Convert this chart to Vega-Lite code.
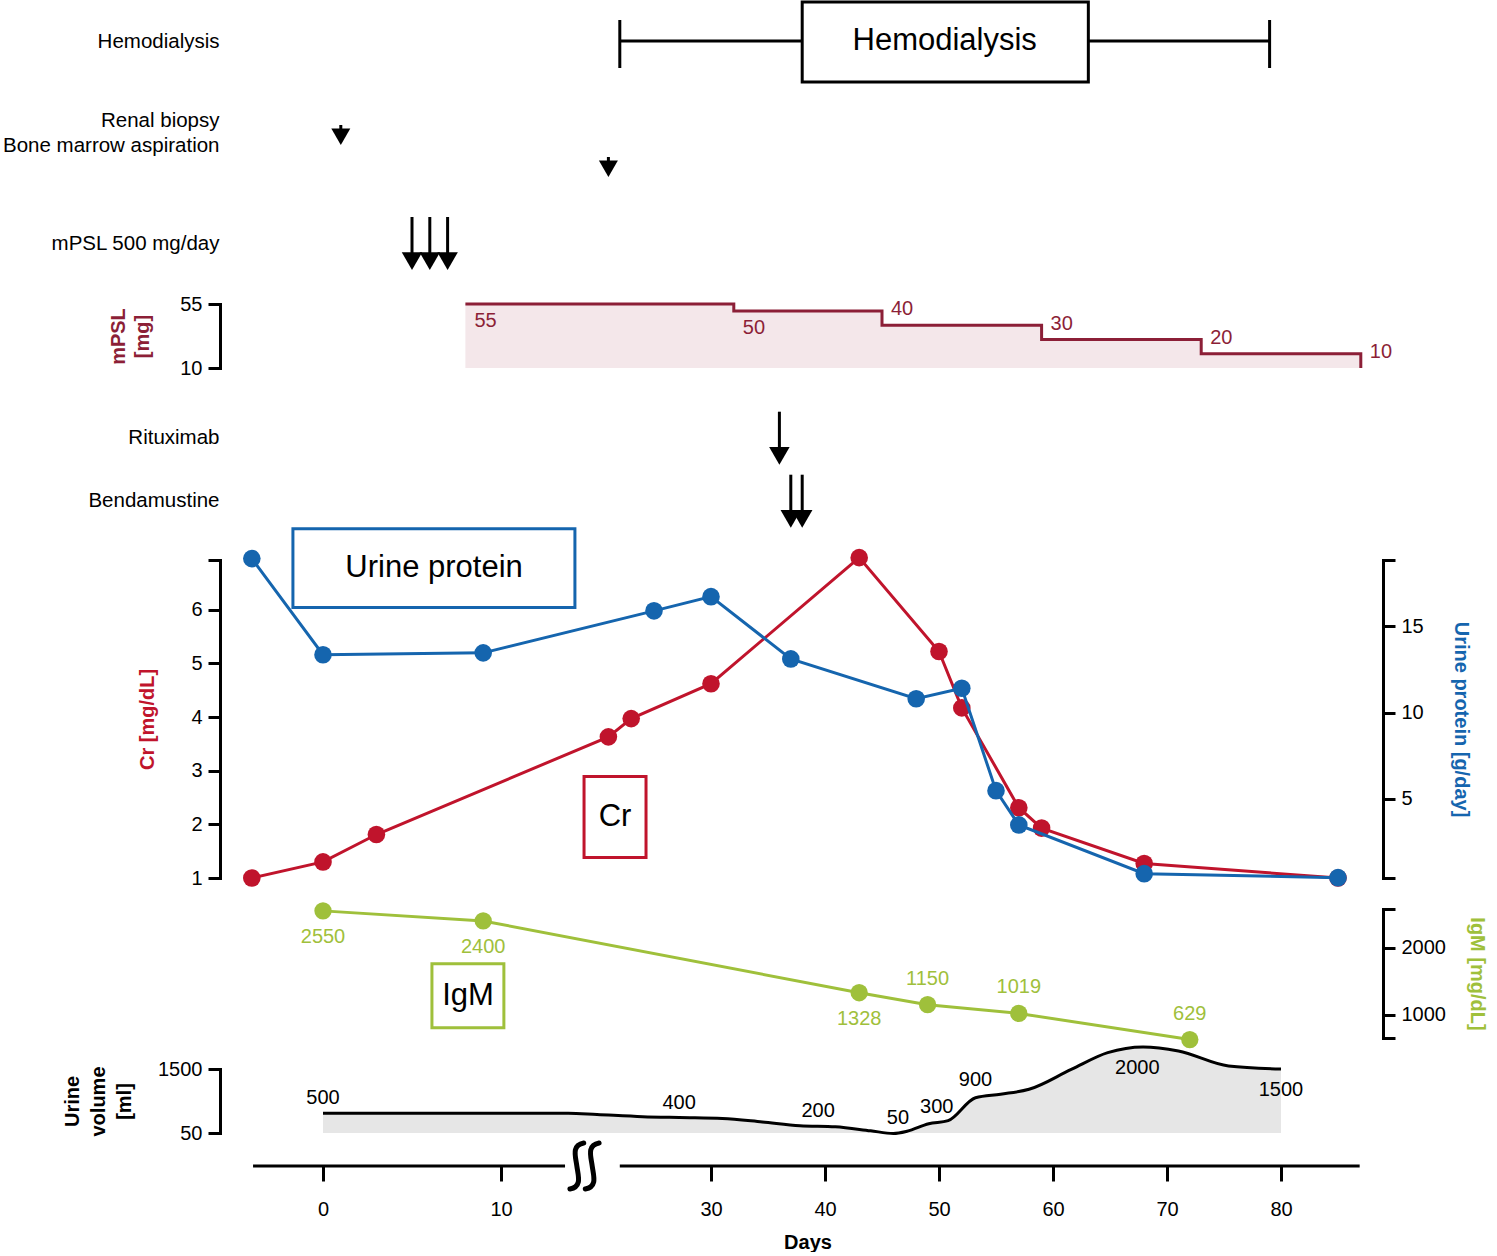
{
  "$schema": "https://vega.github.io/schema/vega-lite/v6.json",
  "background": "white",
  "padding": {"left": 2, "top": 0, "right": 10, "bottom": 0},
  "spacing": 31,
  "bounds": "flush",
  "resolve": {"scale": {"x": "independent"}},
  "config": {
    "font": "Liberation Sans",
    "view": {"stroke": null},
    "axis": {
      "grid": false, "domainColor": "black", "domainWidth": 3, "domainCap": "square",
      "tickColor": "black", "tickWidth": 3, "tickSize": 12,
      "labelColor": "black", "labelFontSize": 20, "labelPadding": 6, "labelLimit": 400,
      "labelFlush": false, "labelOverlap": false,
      "titleFontSize": 20, "titleFontWeight": "bold", "titleColor": "black"
    }
  },
  "datasets": {
    "hd": [{"label": "Hemodialysis", "start": 22, "end": 79, "boxStart": 38, "boxEnd": 63.1, "mid": 50.5, "lane": 41}],
    "eventsA": [
      {"event": "Renal biopsy", "day": 1, "lane": 135},
      {"event": "Bone marrow aspiration", "day": 21, "lane": 167},
      {"event": "mPSL 500 mg/day", "day": 5, "lane": 243},
      {"event": "mPSL 500 mg/day", "day": 6, "lane": 243},
      {"event": "mPSL 500 mg/day", "day": 7, "lane": 243}
    ],
    "eventsC": [
      {"event": "Rituximab", "day": 36, "lane": 38.7},
      {"event": "Bendamustine", "day": 37, "lane": 101.7},
      {"event": "Bendamustine", "day": 38, "lane": 101.7}
    ],
    "mpsl": [
      {"day": 8, "dose": 55}, {"day": 32, "dose": 50}, {"day": 45, "dose": 40},
      {"day": 59, "dose": 30}, {"day": 73, "dose": 20}, {"day": 87, "dose": 10}
    ],
    "cr": [
      {"day": -4, "cr": 1.0}, {"day": 0, "cr": 1.3}, {"day": 3, "cr": 1.81}, {"day": 21, "cr": 3.63},
      {"day": 23, "cr": 3.97}, {"day": 30, "cr": 4.62}, {"day": 43, "cr": 6.97}, {"day": 50, "cr": 5.22},
      {"day": 52, "cr": 4.17}, {"day": 57, "cr": 2.31}, {"day": 59, "cr": 1.93}, {"day": 68, "cr": 1.27},
      {"day": 85, "cr": 1.0}
    ],
    "up": [
      {"day": -4, "up": 18.9}, {"day": 0, "up": 13.34}, {"day": 9, "up": 13.45}, {"day": 25, "up": 15.88},
      {"day": 30, "up": 16.7}, {"day": 37, "up": 13.1}, {"day": 48, "up": 10.8}, {"day": 52, "up": 11.4},
      {"day": 55, "up": 5.48}, {"day": 57, "up": 3.5}, {"day": 68, "up": 0.68}, {"day": 85, "up": 0.45}
    ],
    "igm": [
      {"day": 0, "igm": 2550}, {"day": 9, "igm": 2400}, {"day": 43, "igm": 1328},
      {"day": 49, "igm": 1150}, {"day": 57, "igm": 1019}, {"day": 72, "igm": 629}
    ],
    "notes": [
      {"label": "Urine protein", "x1": -1.69, "x2": 17.7, "lo": 6.04, "hi": 7.51, "cx": 6.24, "cy": 6.77},
      {"label": "Cr", "x1": 18.65, "x2": 24.3, "lo": 1.38, "hi": 2.89, "cx": 21.58, "cy": 2.13},
      {"label": "IgM", "x1": 6.12, "x2": 10.3, "lo": 806, "hi": 1761, "cx": 8.15, "cy": 1284}
    ],
    "uvCurve": [
      {"day": 0, "vol": 500}, {"day": 17, "vol": 500}, {"day": 20, "vol": 470}, {"day": 24, "vol": 420},
      {"day": 27.2, "vol": 400}, {"day": 31, "vol": 380}, {"day": 34.5, "vol": 300}, {"day": 37.8, "vol": 215},
      {"day": 40.9, "vol": 190}, {"day": 44, "vol": 100}, {"day": 46, "vol": 40}, {"day": 47.2, "vol": 90},
      {"day": 49.1, "vol": 260}, {"day": 50.8, "vol": 330}, {"day": 53.2, "vol": 850}, {"day": 55.4, "vol": 930},
      {"day": 57.9, "vol": 1040}, {"day": 61.6, "vol": 1490}, {"day": 64.8, "vol": 1870}, {"day": 67.9, "vol": 2000},
      {"day": 71, "vol": 1910}, {"day": 75.4, "vol": 1570}, {"day": 80, "vol": 1500}
    ],
    "uvLabels": [
      {"day": 0, "vol": 500}, {"day": 27.2, "vol": 400}, {"day": 39.4, "vol": 200}, {"day": 46.4, "vol": 50},
      {"day": 49.8, "vol": 300}, {"day": 53.2, "vol": 900}, {"day": 67.4, "vol": 2000}, {"day": 80, "vol": 1500}
    ],
    "axisSegments": [{"from": -3.93, "to": 16.67}, {"from": 22, "to": 86.9}],
    "breaks": [{"day": 17.9}, {"day": 19.5}]
  },
  "vconcat": [
    {
      "width": 1163, "height": 272.3,
      "layer": [
        {"data": {"name": "hd"}, "mark": {"type": "rule", "color": "black", "strokeWidth": 3},
         "encoding": {
           "x": {"field": "start", "type": "quantitative", "scale": {"domain": [-5.787, 10, 20, 90], "range": [0, 281, 377, 1175], "nice": false, "zero": false}, "axis": null},
           "x2": {"field": "end"},
           "y": {"field": "lane", "type": "quantitative", "scale": {"domain": [0, 272.3], "reverse": true, "nice": false, "zero": false}, "axis": {"values": [41, 120, 243], "labelExpr": "datum.value == 41 ? 'Hemodialysis' : datum.value == 243 ? 'mPSL 500 mg/day' : ['Renal biopsy', 'Bone marrow aspiration']", "domain": false, "ticks": false, "tickSize": 0, "labelPadding": 1, "labelFontSize": 20.5, "labelLineHeight": 25, "labelBaseline": "middle", "labelAlign": "right", "title": null}}
         }},
        {"data": {"name": "hd"}, "mark": {"type": "tick", "orient": "vertical", "size": 48, "thickness": 3, "color": "black", "opacity": 1, "yOffset": 3},
         "encoding": {
           "x": {"field": "start", "type": "quantitative", "scale": {"domain": [-5.787, 10, 20, 90], "range": [0, 281, 377, 1175], "nice": false, "zero": false}, "axis": null},
           "y": {"field": "lane", "type": "quantitative", "scale": {"domain": [0, 272.3], "reverse": true, "nice": false, "zero": false}, "axis": {"values": [41, 120, 243], "labelExpr": "datum.value == 41 ? 'Hemodialysis' : datum.value == 243 ? 'mPSL 500 mg/day' : ['Renal biopsy', 'Bone marrow aspiration']", "domain": false, "ticks": false, "tickSize": 0, "labelPadding": 1, "labelFontSize": 20.5, "labelLineHeight": 25, "labelBaseline": "middle", "labelAlign": "right", "title": null}}
         }},
        {"data": {"name": "hd"}, "mark": {"type": "tick", "orient": "vertical", "size": 48, "thickness": 3, "color": "black", "opacity": 1, "yOffset": 3},
         "encoding": {
           "x": {"field": "end", "type": "quantitative", "scale": {"domain": [-5.787, 10, 20, 90], "range": [0, 281, 377, 1175], "nice": false, "zero": false}, "axis": null},
           "y": {"field": "lane", "type": "quantitative", "scale": {"domain": [0, 272.3], "reverse": true, "nice": false, "zero": false}, "axis": {"values": [41, 120, 243], "labelExpr": "datum.value == 41 ? 'Hemodialysis' : datum.value == 243 ? 'mPSL 500 mg/day' : ['Renal biopsy', 'Bone marrow aspiration']", "domain": false, "ticks": false, "tickSize": 0, "labelPadding": 1, "labelFontSize": 20.5, "labelLineHeight": 25, "labelBaseline": "middle", "labelAlign": "right", "title": null}}
         }},
        {"data": {"name": "hd"}, "mark": {"type": "rect", "fill": "white", "stroke": "black", "strokeWidth": 3, "yOffset": -39, "y2Offset": 41},
         "encoding": {
           "x": {"field": "boxStart", "type": "quantitative", "scale": {"domain": [-5.787, 10, 20, 90], "range": [0, 281, 377, 1175], "nice": false, "zero": false}, "axis": null},
           "x2": {"field": "boxEnd"},
           "y": {"field": "lane", "type": "quantitative", "scale": {"domain": [0, 272.3], "reverse": true, "nice": false, "zero": false}, "axis": {"values": [41, 120, 243], "labelExpr": "datum.value == 41 ? 'Hemodialysis' : datum.value == 243 ? 'mPSL 500 mg/day' : ['Renal biopsy', 'Bone marrow aspiration']", "domain": false, "ticks": false, "tickSize": 0, "labelPadding": 1, "labelFontSize": 20.5, "labelLineHeight": 25, "labelBaseline": "middle", "labelAlign": "right", "title": null}},
           "y2": {"field": "lane"}
         }},
        {"data": {"name": "hd"}, "mark": {"type": "text", "fontSize": 31, "color": "black", "baseline": "middle", "align": "center"},
         "encoding": {
           "x": {"field": "mid", "type": "quantitative", "scale": {"domain": [-5.787, 10, 20, 90], "range": [0, 281, 377, 1175], "nice": false, "zero": false}, "axis": null},
           "y": {"field": "lane", "type": "quantitative", "scale": {"domain": [0, 272.3], "reverse": true, "nice": false, "zero": false}, "axis": {"values": [41, 120, 243], "labelExpr": "datum.value == 41 ? 'Hemodialysis' : datum.value == 243 ? 'mPSL 500 mg/day' : ['Renal biopsy', 'Bone marrow aspiration']", "domain": false, "ticks": false, "tickSize": 0, "labelPadding": 1, "labelFontSize": 20.5, "labelLineHeight": 25, "labelBaseline": "middle", "labelAlign": "right", "title": null}},
           "text": {"field": "label"}
         }},
        {"data": {"name": "eventsA"}, "transform": [{"filter": "datum.event != 'mPSL 500 mg/day'"}],
         "mark": {"type": "tick", "orient": "vertical", "size": 10, "thickness": 3, "color": "black", "opacity": 1, "yOffset": -5},
         "encoding": {
           "x": {"field": "day", "type": "quantitative", "scale": {"domain": [-5.787, 10, 20, 90], "range": [0, 281, 377, 1175], "nice": false, "zero": false}, "axis": null},
           "y": {"field": "lane", "type": "quantitative", "scale": {"domain": [0, 272.3], "reverse": true, "nice": false, "zero": false}, "axis": {"values": [41, 120, 243], "labelExpr": "datum.value == 41 ? 'Hemodialysis' : datum.value == 243 ? 'mPSL 500 mg/day' : ['Renal biopsy', 'Bone marrow aspiration']", "domain": false, "ticks": false, "tickSize": 0, "labelPadding": 1, "labelFontSize": 20.5, "labelLineHeight": 25, "labelBaseline": "middle", "labelAlign": "right", "title": null}}
         }},
        {"data": {"name": "eventsA"}, "transform": [{"filter": "datum.event != 'mPSL 500 mg/day'"}],
         "mark": {"type": "point", "shape": "triangle-down", "filled": true, "color": "black", "opacity": 1, "size": 361, "yOffset": 1.8},
         "encoding": {
           "x": {"field": "day", "type": "quantitative", "scale": {"domain": [-5.787, 10, 20, 90], "range": [0, 281, 377, 1175], "nice": false, "zero": false}, "axis": null},
           "y": {"field": "lane", "type": "quantitative", "scale": {"domain": [0, 272.3], "reverse": true, "nice": false, "zero": false}, "axis": {"values": [41, 120, 243], "labelExpr": "datum.value == 41 ? 'Hemodialysis' : datum.value == 243 ? 'mPSL 500 mg/day' : ['Renal biopsy', 'Bone marrow aspiration']", "domain": false, "ticks": false, "tickSize": 0, "labelPadding": 1, "labelFontSize": 20.5, "labelLineHeight": 25, "labelBaseline": "middle", "labelAlign": "right", "title": null}}
         }},
        {"data": {"name": "eventsA"}, "transform": [{"filter": "datum.event == 'mPSL 500 mg/day'"}],
         "mark": {"type": "tick", "orient": "vertical", "size": 38, "thickness": 3, "color": "black", "opacity": 1, "yOffset": -7},
         "encoding": {
           "x": {"field": "day", "type": "quantitative", "scale": {"domain": [-5.787, 10, 20, 90], "range": [0, 281, 377, 1175], "nice": false, "zero": false}, "axis": null},
           "y": {"field": "lane", "type": "quantitative", "scale": {"domain": [0, 272.3], "reverse": true, "nice": false, "zero": false}, "axis": {"values": [41, 120, 243], "labelExpr": "datum.value == 41 ? 'Hemodialysis' : datum.value == 243 ? 'mPSL 500 mg/day' : ['Renal biopsy', 'Bone marrow aspiration']", "domain": false, "ticks": false, "tickSize": 0, "labelPadding": 1, "labelFontSize": 20.5, "labelLineHeight": 25, "labelBaseline": "middle", "labelAlign": "right", "title": null}}
         }},
        {"data": {"name": "eventsA"}, "transform": [{"filter": "datum.event == 'mPSL 500 mg/day'"}],
         "mark": {"type": "point", "shape": "triangle-down", "filled": true, "color": "black", "opacity": 1, "size": 420, "yOffset": 18.1},
         "encoding": {
           "x": {"field": "day", "type": "quantitative", "scale": {"domain": [-5.787, 10, 20, 90], "range": [0, 281, 377, 1175], "nice": false, "zero": false}, "axis": null},
           "y": {"field": "lane", "type": "quantitative", "scale": {"domain": [0, 272.3], "reverse": true, "nice": false, "zero": false}, "axis": {"values": [41, 120, 243], "labelExpr": "datum.value == 41 ? 'Hemodialysis' : datum.value == 243 ? 'mPSL 500 mg/day' : ['Renal biopsy', 'Bone marrow aspiration']", "domain": false, "ticks": false, "tickSize": 0, "labelPadding": 1, "labelFontSize": 20.5, "labelLineHeight": 25, "labelBaseline": "middle", "labelAlign": "right", "title": null}}
         }}
      ]
    },
    {
      "width": 1163, "height": 64,
      "data": {"name": "mpsl"},
      "layer": [
        {"mark": {"type": "area", "interpolate": "step-after", "color": "#f4e7ea", "opacity": 1},
         "encoding": {
           "x": {"field": "day", "type": "quantitative", "scale": {"domain": [-5.787, 10, 20, 90], "range": [0, 281, 377, 1175], "nice": false, "zero": false}, "axis": null},
           "y": {"field": "dose", "type": "quantitative", "scale": {"domain": [10, 55], "nice": false, "zero": false}, "axis": {"values": [10, 55], "title": ["mPSL", "[mg]"], "titleColor": "#8c1f37", "titlePadding": 27, "titleLineHeight": 24}},
           "y2": {"datum": 10}
         }},
        {"mark": {"type": "line", "interpolate": "step-after", "color": "#8c1f37", "strokeWidth": 3},
         "encoding": {
           "x": {"field": "day", "type": "quantitative", "scale": {"domain": [-5.787, 10, 20, 90], "range": [0, 281, 377, 1175], "nice": false, "zero": false}, "axis": null},
           "y": {"field": "dose", "type": "quantitative", "scale": {"domain": [10, 55], "nice": false, "zero": false}, "axis": {"values": [10, 55], "title": ["mPSL", "[mg]"], "titleColor": "#8c1f37", "titlePadding": 27, "titleLineHeight": 24}}
         }},
        {"transform": [{"filter": "datum.dose >= 50"}],
         "mark": {"type": "text", "align": "left", "baseline": "middle", "dx": 9, "dy": 17, "fontSize": 20, "color": "#8c1f37"},
         "encoding": {
           "x": {"field": "day", "type": "quantitative", "scale": {"domain": [-5.787, 10, 20, 90], "range": [0, 281, 377, 1175], "nice": false, "zero": false}, "axis": null},
           "y": {"field": "dose", "type": "quantitative", "scale": {"domain": [10, 55], "nice": false, "zero": false}, "axis": {"values": [10, 55], "title": ["mPSL", "[mg]"], "titleColor": "#8c1f37", "titlePadding": 27, "titleLineHeight": 24}},
           "text": {"field": "dose"}
         }},
        {"transform": [{"filter": "datum.dose < 50"}],
         "mark": {"type": "text", "align": "left", "baseline": "middle", "dx": 9, "dy": -16, "fontSize": 20, "color": "#8c1f37"},
         "encoding": {
           "x": {"field": "day", "type": "quantitative", "scale": {"domain": [-5.787, 10, 20, 90], "range": [0, 281, 377, 1175], "nice": false, "zero": false}, "axis": null},
           "y": {"field": "dose", "type": "quantitative", "scale": {"domain": [10, 55], "nice": false, "zero": false}, "axis": {"values": [10, 55], "title": ["mPSL", "[mg]"], "titleColor": "#8c1f37", "titlePadding": 27, "titleLineHeight": 24}},
           "text": {"field": "dose"}
         }}
      ]
    },
    {
      "width": 1163, "height": 130,
      "data": {"name": "eventsC"},
      "layer": [
        {"mark": {"type": "tick", "orient": "vertical", "size": 38, "thickness": 3, "color": "black", "opacity": 1, "yOffset": -7},
         "encoding": {
           "x": {"field": "day", "type": "quantitative", "scale": {"domain": [-5.787, 10, 20, 90], "range": [0, 281, 377, 1175], "nice": false, "zero": false}, "axis": null},
           "y": {"field": "lane", "type": "quantitative", "scale": {"domain": [0, 130], "reverse": true, "nice": false, "zero": false}, "axis": {"values": [38.7, 101.7], "labelExpr": "datum.value < 70 ? 'Rituximab' : 'Bendamustine'", "domain": false, "ticks": false, "tickSize": 0, "labelPadding": 1, "labelFontSize": 20.5, "labelBaseline": "middle", "labelAlign": "right", "title": null}}
         }},
        {"mark": {"type": "point", "shape": "triangle-down", "filled": true, "color": "black", "opacity": 1, "size": 420, "yOffset": 18.1},
         "encoding": {
           "x": {"field": "day", "type": "quantitative", "scale": {"domain": [-5.787, 10, 20, 90], "range": [0, 281, 377, 1175], "nice": false, "zero": false}, "axis": null},
           "y": {"field": "lane", "type": "quantitative", "scale": {"domain": [0, 130], "reverse": true, "nice": false, "zero": false}, "axis": {"values": [38.7, 101.7], "labelExpr": "datum.value < 70 ? 'Rituximab' : 'Bendamustine'", "domain": false, "ticks": false, "tickSize": 0, "labelPadding": 1, "labelFontSize": 20.5, "labelBaseline": "middle", "labelAlign": "right", "title": null}}
         }}
      ]
    },
    {
      "width": 1163, "height": 318,
      "layer": [
        {"layer": [
          {"data": {"name": "notes"}, "transform": [{"filter": "datum.label == 'Urine protein'"}],
           "mark": {"type": "rect", "filled": false, "color": "#1565ae", "strokeWidth": 3},
           "encoding": {
             "x": {"field": "x1", "type": "quantitative", "scale": {"domain": [-5.787, 10, 20, 90], "range": [0, 281, 377, 1175], "nice": false, "zero": false}, "axis": null},
             "x2": {"field": "x2"},
             "y": {"field": "lo", "type": "quantitative", "scale": {"domain": [1, 6.926], "nice": false, "zero": false}, "axis": {"orient": "left", "values": [1, 2, 3, 4, 5, 6, 6.926], "labelExpr": "datum.value > 6.5 ? '' : datum.label", "title": "Cr [mg/dL]", "titleColor": "#c0142c", "titlePadding": 33}},
             "y2": {"field": "hi"}
           }},
          {"data": {"name": "notes"}, "transform": [{"filter": "datum.label == 'Cr'"}],
           "mark": {"type": "rect", "filled": false, "color": "#c0142c", "strokeWidth": 3},
           "encoding": {
             "x": {"field": "x1", "type": "quantitative", "scale": {"domain": [-5.787, 10, 20, 90], "range": [0, 281, 377, 1175], "nice": false, "zero": false}, "axis": null},
             "x2": {"field": "x2"},
             "y": {"field": "lo", "type": "quantitative", "scale": {"domain": [1, 6.926], "nice": false, "zero": false}, "axis": {"orient": "left", "values": [1, 2, 3, 4, 5, 6, 6.926], "labelExpr": "datum.value > 6.5 ? '' : datum.label", "title": "Cr [mg/dL]", "titleColor": "#c0142c", "titlePadding": 33}},
             "y2": {"field": "hi"}
           }},
          {"data": {"name": "notes"}, "transform": [{"filter": "datum.label != 'IgM'"}],
           "mark": {"type": "text", "fontSize": 31, "color": "black", "baseline": "middle", "align": "center"},
           "encoding": {
             "x": {"field": "cx", "type": "quantitative", "scale": {"domain": [-5.787, 10, 20, 90], "range": [0, 281, 377, 1175], "nice": false, "zero": false}, "axis": null},
             "y": {"field": "cy", "type": "quantitative", "scale": {"domain": [1, 6.926], "nice": false, "zero": false}, "axis": {"orient": "left", "values": [1, 2, 3, 4, 5, 6, 6.926], "labelExpr": "datum.value > 6.5 ? '' : datum.label", "title": "Cr [mg/dL]", "titleColor": "#c0142c", "titlePadding": 33}},
             "text": {"field": "label"}
           }},
          {"data": {"name": "cr"}, "mark": {"type": "line", "color": "#c0142c", "strokeWidth": 3},
           "encoding": {
             "x": {"field": "day", "type": "quantitative", "scale": {"domain": [-5.787, 10, 20, 90], "range": [0, 281, 377, 1175], "nice": false, "zero": false}, "axis": null},
             "y": {"field": "cr", "type": "quantitative", "scale": {"domain": [1, 6.926], "nice": false, "zero": false}, "axis": {"orient": "left", "values": [1, 2, 3, 4, 5, 6, 6.926], "labelExpr": "datum.value > 6.5 ? '' : datum.label", "title": "Cr [mg/dL]", "titleColor": "#c0142c", "titlePadding": 33}}
           }},
          {"data": {"name": "cr"}, "mark": {"type": "point", "shape": "circle", "filled": true, "size": 310, "color": "#c0142c", "opacity": 1},
           "encoding": {
             "x": {"field": "day", "type": "quantitative", "scale": {"domain": [-5.787, 10, 20, 90], "range": [0, 281, 377, 1175], "nice": false, "zero": false}, "axis": null},
             "y": {"field": "cr", "type": "quantitative", "scale": {"domain": [1, 6.926], "nice": false, "zero": false}, "axis": {"orient": "left", "values": [1, 2, 3, 4, 5, 6, 6.926], "labelExpr": "datum.value > 6.5 ? '' : datum.label", "title": "Cr [mg/dL]", "titleColor": "#c0142c", "titlePadding": 33}}
           }}
        ]},
        {"data": {"name": "up"},
         "layer": [
          {"mark": {"type": "line", "color": "#1565ae", "strokeWidth": 3},
           "encoding": {
             "x": {"field": "day", "type": "quantitative", "scale": {"domain": [-5.787, 10, 20, 90], "range": [0, 281, 377, 1175], "nice": false, "zero": false}, "axis": null},
             "y": {"field": "up", "type": "quantitative", "scale": {"domain": [0.43, 18.82], "nice": false, "zero": false}, "axis": {"orient": "right", "values": [0.43, 5, 10, 15, 18.82], "labelExpr": "datum.value == 5 || datum.value == 10 || datum.value == 15 ? datum.label : ''", "title": "Urine protein [g/day]", "titleColor": "#1565ae", "titlePadding": 27}}
           }},
          {"mark": {"type": "point", "shape": "circle", "filled": true, "size": 310, "color": "#1565ae", "opacity": 1},
           "encoding": {
             "x": {"field": "day", "type": "quantitative", "scale": {"domain": [-5.787, 10, 20, 90], "range": [0, 281, 377, 1175], "nice": false, "zero": false}, "axis": null},
             "y": {"field": "up", "type": "quantitative", "scale": {"domain": [0.43, 18.82], "nice": false, "zero": false}, "axis": {"orient": "right", "values": [0.43, 5, 10, 15, 18.82], "labelExpr": "datum.value == 5 || datum.value == 10 || datum.value == 15 ? datum.label : ''", "title": "Urine protein [g/day]", "titleColor": "#1565ae", "titlePadding": 27}}
           }}
         ]}
      ],
      "resolve": {"scale": {"y": "independent"}}
    },
    {
      "width": 1163, "height": 129,
      "layer": [
        {"data": {"name": "notes"}, "transform": [{"filter": "datum.label == 'IgM'"}],
         "mark": {"type": "rect", "filled": false, "color": "#9fc03b", "strokeWidth": 3},
         "encoding": {
           "x": {"field": "x1", "type": "quantitative", "scale": {"domain": [-5.787, 10, 20, 90], "range": [0, 281, 377, 1175], "nice": false, "zero": false}, "axis": null},
           "x2": {"field": "x2"},
           "y": {"field": "lo", "type": "quantitative", "scale": {"domain": [652, 2578], "nice": false, "zero": false}, "axis": {"orient": "right", "values": [652, 1000, 2000, 2578], "format": "d", "labelExpr": "datum.value == 1000 || datum.value == 2000 ? datum.label : ''", "title": "IgM [mg/dL]", "titleColor": "#9fc03b", "titlePadding": 21}},
           "y2": {"field": "hi"}
         }},
        {"data": {"name": "notes"}, "transform": [{"filter": "datum.label == 'IgM'"}],
         "mark": {"type": "text", "fontSize": 31, "color": "black", "baseline": "middle", "align": "center"},
         "encoding": {
           "x": {"field": "cx", "type": "quantitative", "scale": {"domain": [-5.787, 10, 20, 90], "range": [0, 281, 377, 1175], "nice": false, "zero": false}, "axis": null},
           "y": {"field": "cy", "type": "quantitative", "scale": {"domain": [652, 2578], "nice": false, "zero": false}, "axis": {"orient": "right", "values": [652, 1000, 2000, 2578], "format": "d", "labelExpr": "datum.value == 1000 || datum.value == 2000 ? datum.label : ''", "title": "IgM [mg/dL]", "titleColor": "#9fc03b", "titlePadding": 21}},
           "text": {"field": "label"}
         }},
        {"data": {"name": "igm"}, "mark": {"type": "line", "color": "#9fc03b", "strokeWidth": 3},
         "encoding": {
           "x": {"field": "day", "type": "quantitative", "scale": {"domain": [-5.787, 10, 20, 90], "range": [0, 281, 377, 1175], "nice": false, "zero": false}, "axis": null},
           "y": {"field": "igm", "type": "quantitative", "scale": {"domain": [652, 2578], "nice": false, "zero": false}, "axis": {"orient": "right", "values": [652, 1000, 2000, 2578], "format": "d", "labelExpr": "datum.value == 1000 || datum.value == 2000 ? datum.label : ''", "title": "IgM [mg/dL]", "titleColor": "#9fc03b", "titlePadding": 21}}
         }},
        {"data": {"name": "igm"}, "mark": {"type": "point", "shape": "circle", "filled": true, "size": 300, "color": "#9fc03b", "opacity": 1},
         "encoding": {
           "x": {"field": "day", "type": "quantitative", "scale": {"domain": [-5.787, 10, 20, 90], "range": [0, 281, 377, 1175], "nice": false, "zero": false}, "axis": null},
           "y": {"field": "igm", "type": "quantitative", "scale": {"domain": [652, 2578], "nice": false, "zero": false}, "axis": {"orient": "right", "values": [652, 1000, 2000, 2578], "format": "d", "labelExpr": "datum.value == 1000 || datum.value == 2000 ? datum.label : ''", "title": "IgM [mg/dL]", "titleColor": "#9fc03b", "titlePadding": 21}}
         }},
        {"data": {"name": "igm"}, "transform": [{"filter": "datum.day <= 43"}],
         "mark": {"type": "text", "fontSize": 20, "color": "#9fc03b", "baseline": "middle", "align": "center", "dy": 26},
         "encoding": {
           "x": {"field": "day", "type": "quantitative", "scale": {"domain": [-5.787, 10, 20, 90], "range": [0, 281, 377, 1175], "nice": false, "zero": false}, "axis": null},
           "y": {"field": "igm", "type": "quantitative", "scale": {"domain": [652, 2578], "nice": false, "zero": false}, "axis": {"orient": "right", "values": [652, 1000, 2000, 2578], "format": "d", "labelExpr": "datum.value == 1000 || datum.value == 2000 ? datum.label : ''", "title": "IgM [mg/dL]", "titleColor": "#9fc03b", "titlePadding": 21}},
           "text": {"field": "igm", "format": "d"}
         }},
        {"data": {"name": "igm"}, "transform": [{"filter": "datum.day > 43"}],
         "mark": {"type": "text", "fontSize": 20, "color": "#9fc03b", "baseline": "middle", "align": "center", "dy": -26},
         "encoding": {
           "x": {"field": "day", "type": "quantitative", "scale": {"domain": [-5.787, 10, 20, 90], "range": [0, 281, 377, 1175], "nice": false, "zero": false}, "axis": null},
           "y": {"field": "igm", "type": "quantitative", "scale": {"domain": [652, 2578], "nice": false, "zero": false}, "axis": {"orient": "right", "values": [652, 1000, 2000, 2578], "format": "d", "labelExpr": "datum.value == 1000 || datum.value == 2000 ? datum.label : ''", "title": "IgM [mg/dL]", "titleColor": "#9fc03b", "titlePadding": 21}},
           "text": {"field": "igm", "format": "d"}
         }}
      ]
    },
    {
      "width": 1163, "height": 64,
      "layer": [
        {"data": {"name": "uvCurve"}, "mark": {"type": "area", "interpolate": "monotone", "color": "#e6e6e6", "opacity": 1},
         "encoding": {
           "x": {"field": "day", "type": "quantitative", "scale": {"domain": [-5.787, 10, 20, 90], "range": [0, 281, 377, 1175], "nice": false, "zero": false}, "axis": null},
           "y": {"field": "vol", "type": "quantitative", "scale": {"domain": [50, 1500], "nice": false, "zero": false}, "axis": {"values": [50, 1500], "format": "d", "title": ["Urine", "volume", "[ml]"], "titlePadding": 23, "titleLineHeight": 26}},
           "y2": {"datum": 50}
         }},
        {"data": {"name": "uvCurve"}, "mark": {"type": "line", "interpolate": "monotone", "color": "black", "strokeWidth": 3},
         "encoding": {
           "x": {"field": "day", "type": "quantitative", "scale": {"domain": [-5.787, 10, 20, 90], "range": [0, 281, 377, 1175], "nice": false, "zero": false}, "axis": null},
           "y": {"field": "vol", "type": "quantitative", "scale": {"domain": [50, 1500], "nice": false, "zero": false}, "axis": {"values": [50, 1500], "format": "d", "title": ["Urine", "volume", "[ml]"], "titlePadding": 23, "titleLineHeight": 26}}
         }},
        {"data": {"name": "uvLabels"}, "transform": [{"filter": "datum.vol < 1500"}],
         "mark": {"type": "text", "fontSize": 20, "color": "black", "baseline": "middle", "align": "center", "dy": -15},
         "encoding": {
           "x": {"field": "day", "type": "quantitative", "scale": {"domain": [-5.787, 10, 20, 90], "range": [0, 281, 377, 1175], "nice": false, "zero": false}, "axis": null},
           "y": {"field": "vol", "type": "quantitative", "scale": {"domain": [50, 1500], "nice": false, "zero": false}, "axis": {"values": [50, 1500], "format": "d", "title": ["Urine", "volume", "[ml]"], "titlePadding": 23, "titleLineHeight": 26}},
           "text": {"field": "vol", "format": "d"}
         }},
        {"data": {"name": "uvLabels"}, "transform": [{"filter": "datum.vol >= 1500"}],
         "mark": {"type": "text", "fontSize": 20, "color": "black", "baseline": "middle", "align": "center", "dy": 21},
         "encoding": {
           "x": {"field": "day", "type": "quantitative", "scale": {"domain": [-5.787, 10, 20, 90], "range": [0, 281, 377, 1175], "nice": false, "zero": false}, "axis": null},
           "y": {"field": "vol", "type": "quantitative", "scale": {"domain": [50, 1500], "nice": false, "zero": false}, "axis": {"values": [50, 1500], "format": "d", "title": ["Urine", "volume", "[ml]"], "titlePadding": 23, "titleLineHeight": 26}},
           "text": {"field": "vol", "format": "d"}
         }}
      ]
    },
    {
      "width": 1163, "height": 2,
      "layer": [
        {"data": {"name": "axisSegments"}, "mark": {"type": "rule", "color": "black", "strokeWidth": 3},
         "encoding": {
           "x": {"field": "from", "type": "quantitative", "scale": {"domain": [-5.787, 10, 20, 90], "range": [0, 281, 377, 1175], "nice": false, "zero": false},
                 "axis": {"orient": "bottom", "values": [0, 10, 30, 40, 50, 60, 70, 80], "domain": false, "tickSize": 15, "labelPadding": 18, "title": "Days", "titlePadding": 13}},
           "x2": {"field": "to"},
           "y": {"datum": 0, "type": "quantitative", "scale": {"domain": [0, 1], "nice": false, "zero": false}, "axis": null}
         }},
        {"data": {"name": "breaks"},
         "mark": {"type": "point", "shape": "M 0.3 -1 C -0.25 -0.9 -0.05 -0.4 0 0 C 0.05 0.4 0.25 0.9 -0.3 1", "size": 2116, "filled": false, "color": "black", "strokeWidth": 5, "strokeCap": "round", "opacity": 1},
         "encoding": {
           "x": {"field": "day", "type": "quantitative", "scale": {"domain": [-5.787, 10, 20, 90], "range": [0, 281, 377, 1175], "nice": false, "zero": false},
                 "axis": {"orient": "bottom", "values": [0, 10, 30, 40, 50, 60, 70, 80], "domain": false, "tickSize": 15, "labelPadding": 18, "title": "Days", "titlePadding": 13}},
           "y": {"datum": 0, "type": "quantitative", "scale": {"domain": [0, 1], "nice": false, "zero": false}, "axis": null}
         }}
      ]
    }
  ]
}
